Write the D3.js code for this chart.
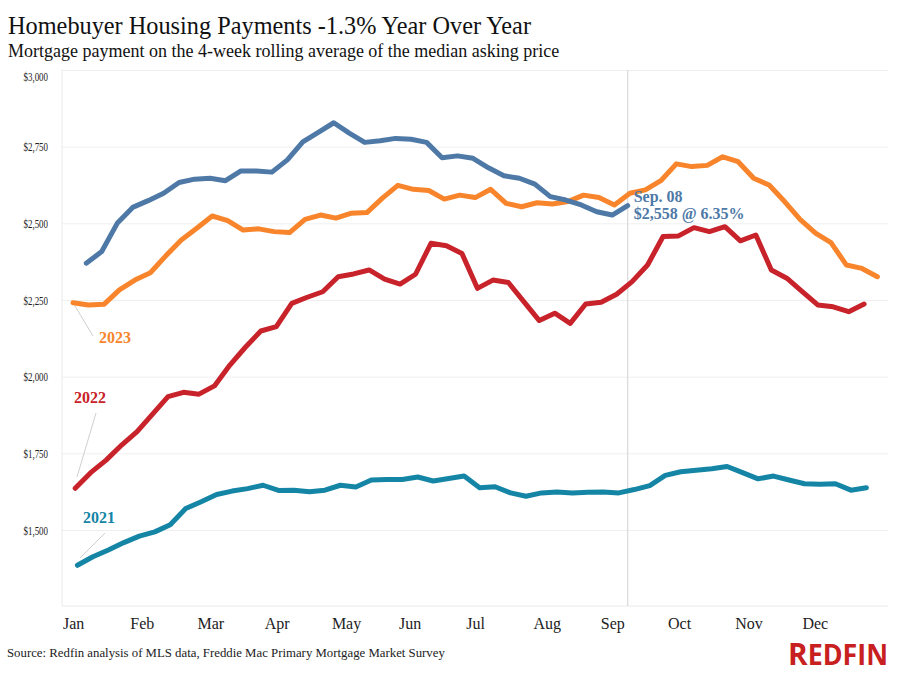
<!DOCTYPE html>
<html>
<head>
<meta charset="utf-8">
<script src="https://cdn.jsdelivr.net/npm/d3@7"></script>
<style>
  body { margin: 0; background: #fff; }
  text { font-family: "Liberation Serif", "Times New Roman", serif; }
</style>
</head>
<body>
<div id="chart"></div>
<script>
// weekly values, week ending Sunday
const months = ["Jan", "Feb", "Mar", "Apr", "May", "Jun", "Jul", "Aug", "Sep", "Oct", "Nov", "Dec"];
const yTicks = [1500, 1750, 2000, 2250, 2500, 2750, 3000];

const start2021 = "2021-01-03";
const values2021 = [1385, 1413, 1435, 1459, 1480, 1494, 1517, 1570, 1592, 1616, 1627, 1635, 1646, 1629, 1630, 1625, 1630,
  1646, 1640, 1663, 1665, 1665, 1673, 1660, 1668, 1676, 1638, 1641, 1621, 1610, 1621, 1624, 1621, 1623, 1624, 1621,
  1632, 1645, 1678, 1690, 1695, 1700, 1707, 1687, 1667, 1676, 1663, 1651, 1649, 1651, 1630, 1638];

const start2022 = "2022-01-02";
const values2022 = [1636, 1687, 1728, 1777, 1821, 1878, 1935, 1949, 1943, 1970, 2038, 2096, 2149, 2163, 2239, 2259, 2277,
  2326, 2335, 2348, 2318, 2302, 2334, 2435, 2427, 2402, 2288, 2315, 2307, 2245, 2183, 2207, 2174, 2237, 2243, 2269,
  2310, 2364, 2457, 2459, 2486, 2473, 2489, 2443, 2462, 2348, 2321, 2277, 2234, 2228, 2212, 2237];

const start2023 = "2023-01-01";
const values2023 = [2241, 2234, 2236, 2283, 2315, 2339, 2394, 2446, 2484, 2524, 2509, 2478, 2482, 2473, 2470, 2513, 2527, 2517, 2533,
  2535, 2582, 2624, 2611, 2607, 2579, 2592, 2584, 2611, 2565, 2554, 2567, 2563, 2571, 2592, 2584, 2560, 2598,
  2609, 2639, 2694, 2685, 2689, 2717, 2701, 2647, 2625, 2571, 2513, 2468, 2437, 2364, 2353, 2326];

const start2024 = "2024-01-07";
const values2024 = [2370, 2408, 2500, 2552, 2574, 2598, 2633, 2644, 2647, 2639, 2671, 2671, 2667, 2707, 2766, 2797, 2828, 2794,
  2764, 2769, 2777, 2774, 2764, 2714, 2720, 2712, 2681, 2655, 2647, 2628, 2587, 2576, 2560, 2538, 2527, 2558];

const W = 898, H = 673;
const svg = d3.select("#chart").append("svg")
  .attr("width", W)
  .attr("height", H);

svg.append("rect").attr("width", W).attr("height", H).attr("fill", "#fff");

const parse = d3.timeParse("%Y-%m-%d");
function dayOfYear(d) {
  return d3.timeDay.count(d3.timeYear(d), d) + 1;
}
function toPoints(startStr, vals) {
  let s = parse(startStr);
  return vals.map((v, i) => {
    let d = d3.timeDay.offset(s, i * 7);
    return { date: d, day: dayOfYear(d), value: v };
  });
}

const series = [
  { year: "2021", color: "#1585a6", data: toPoints(start2021, values2021) },
  { year: "2022", color: "#c8222a", data: toPoints(start2022, values2022) },
  { year: "2023", color: "#f8852b", data: toPoints(start2023, values2023) },
  { year: "2024", color: "#4e79a7", data: toPoints(start2024, values2024) }
];

const plotLeft = 62, plotRight = 888, plotBottom = 606;

const x = d3.scaleLinear().domain([1, 365]).range([73, 877.4]);
const y = d3.scaleLinear().domain([1250, 3000]).range([606.7, 70]);

// gridlines + y labels
const yAxis = svg.append("g")
  .attr("transform", `translate(${plotLeft},0)`)
  .call(d3.axisLeft(y)
    .tickValues(yTicks)
    .tickSize(-(plotRight - plotLeft))
    .tickPadding(14)
    .tickFormat(d => "$" + d3.format(",")(d)));
yAxis.select(".domain").remove();
yAxis.selectAll(".tick line").attr("stroke", "#efefef");
yAxis.selectAll(".tick text")
  .attr("fill", "#222")
  .style("font-size", "13px")
  .attr("textLength", 24.5)
  .attr("lengthAdjust", "spacingAndGlyphs")
  .attr("dy", d => d === 3000 ? "0.8em" : "0.32em");

// frame
svg.append("line")
  .attr("x1", plotLeft).attr("x2", plotLeft)
  .attr("y1", y(3000)).attr("y2", plotBottom)
  .attr("stroke", "#eaeaea");
svg.append("line")
  .attr("x1", plotLeft).attr("x2", plotRight)
  .attr("y1", plotBottom).attr("y2", plotBottom)
  .attr("stroke", "#eaeaea");

// month labels
const monthScale = d3.scaleBand().domain(months).range([x(1) - 10, x(366) - 10]);
const xAxis = svg.append("g")
  .attr("transform", `translate(0,${plotBottom})`)
  .call(d3.axisBottom(monthScale).tickSize(0));
xAxis.select(".domain").remove();
xAxis.selectAll(".tick text")
  .attr("x", -monthScale.bandwidth() / 2)
  .attr("y", 23)
  .attr("dy", 0)
  .attr("text-anchor", "start")
  .attr("fill", "#222")
  .style("font-size", "16px");

// current week marker
const last = series[3].data[series[3].data.length - 1];
svg.append("line")
  .attr("x1", x(last.day)).attr("x2", x(last.day))
  .attr("y1", y(3000)).attr("y2", plotBottom)
  .attr("stroke", "#d9d9d9")
  .attr("stroke-width", 1.2);

// lines
const line = d3.line()
  .x(d => x(d.day))
  .y(d => y(d.value));

svg.selectAll("path.series")
  .data(series)
  .enter()
  .append("path")
  .attr("class", "series")
  .attr("d", d => line(d.data))
  .attr("fill", "none")
  .attr("stroke", d => d.color)
  .attr("stroke-width", 5)
  .attr("stroke-linejoin", "round")
  .attr("stroke-linecap", "round");

// year labels with leader lines
const yearLabels = [
  { s: 0, tx: 83, ty: 523, lx1: 80, ly1: 558, lx2: 105, ly2: 533 },
  { s: 1, tx: 74, ty: 403, lx1: 77, ly1: 477, lx2: 96, ly2: 413 },
  { s: 2, tx: 99, ty: 343, lx1: 75, ly1: 306, lx2: 93, ly2: 336 }
];
yearLabels.forEach(l => {
  svg.append("line")
    .attr("x1", l.lx1).attr("y1", l.ly1)
    .attr("x2", l.lx2).attr("y2", l.ly2)
    .attr("stroke", "#cfcfcf").attr("stroke-width", 1);
  svg.append("text")
    .attr("x", l.tx).attr("y", l.ty)
    .attr("fill", series[l.s].color)
    .style("font-size", "16px")
    .style("font-weight", "bold")
    .text(series[l.s].year);
});

// annotation for latest week
const ann = svg.append("text")
  .attr("x", x(last.day) + 6)
  .attr("y", 202)
  .attr("fill", "#4e79a7")
  .style("font-size", "16px")
  .style("font-weight", "bold");
ann.append("tspan").text("Sep. 08");
ann.append("tspan")
  .attr("x", x(last.day) + 6)
  .attr("dy", 17)
  .text("$" + d3.format(",")(last.value) + " @ 6.35%");

// titles
svg.append("text")
  .attr("x", 8).attr("y", 34)
  .style("font-size", "24.3px")
  .attr("fill", "#111")
  .text("Homebuyer Housing Payments -1.3% Year Over Year");
svg.append("text")
  .attr("x", 8).attr("y", 57)
  .style("font-size", "18px")
  .attr("fill", "#111")
  .text("Mortgage payment on the 4-week rolling average of the median asking price");

svg.append("text")
  .attr("x", 7).attr("y", 657)
  .style("font-size", "12.8px")
  .attr("fill", "#222")
  .text("Source: Redfin analysis of MLS data, Freddie Mac Primary Mortgage Market Survey");

// logo
const logo = svg.append("text")
  .attr("x", 788).attr("y", 665)
  .attr("fill", "#c82021")
  .style("font-family", "'Open Sans', 'Liberation Sans', sans-serif")
  .style("font-weight", "bold")
  .attr("textLength", 100)
  .attr("lengthAdjust", "spacingAndGlyphs");
logo.append("tspan").style("font-size", "31px").text("R");
logo.append("tspan").style("font-size", "28px").text("EDFIN");
</script>
</body>
</html>
